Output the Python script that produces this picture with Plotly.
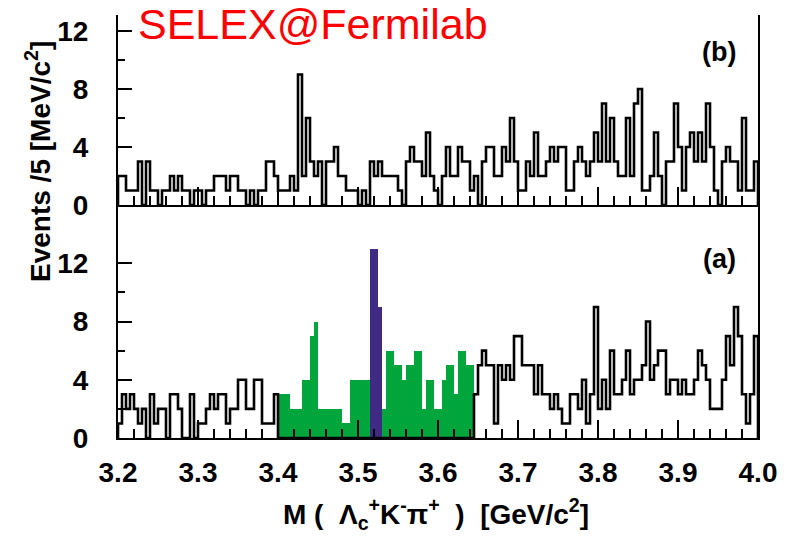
import numpy as np
import plotly.graph_objects as go

# Mass axis: 3.2 - 4.0 GeV/c^2 in 5 MeV/c^2 bins
M_MIN, M_MAX, BIN = 3.2, 4.0, 0.005

# Panel (b): events per 5 MeV/c^2
counts_b = [
    2, 2, 1, 1, 1, 3, 0, 3, 1, 1,
    0, 1, 1, 2, 1, 2, 1, 1, 0, 1,
    1, 0, 1, 1, 2, 2, 2, 1, 2, 2,
    1, 1, 0, 1, 0, 1, 1, 3, 3, 2,
    1, 1, 1, 2, 1, 9, 2, 6, 3, 2,
    3, 0, 3, 3, 4, 2, 2, 1, 1, 1,
    0, 1, 0, 3, 2, 3, 2, 2, 2, 2,
    1, 0, 3, 4, 3, 3, 2, 5, 2, 1,
    0, 2, 4, 2, 2, 4, 3, 3, 1, 2,
    0, 3, 4, 4, 2, 2, 4, 3, 6, 3,
    1, 1, 3, 2, 5, 2, 2, 3, 4, 3,
    4, 4, 1, 1, 3, 4, 3, 2, 3, 5,
    3, 7, 3, 6, 3, 2, 2, 6, 2, 7,
    8, 1, 1, 2, 5, 2, 0, 3, 3, 7,
    4, 1, 4, 5, 3, 5, 3, 7, 4, 1,
    0, 3, 4, 3, 3, 1, 6, 1, 1, 3,
]

# Panel (a): events per 5 MeV/c^2
counts_a = [
    1, 3, 2, 3, 2, 1, 2, 0, 3, 1,
    2, 2, 0, 3, 3, 2, 0, 0, 3, 0,
    1, 1, 2, 3, 2, 3, 3, 1, 2, 2,
    4, 4, 2, 2, 4, 4, 1, 1, 1, 3,
    3, 3, 3, 2, 2, 2, 4, 4, 7, 8,
    2, 2, 2, 2, 2, 2, 1, 1, 4, 4,
    4, 4, 4, 13, 13, 9, 2, 6, 6, 5,
    5, 4, 5, 5, 6, 6, 2, 4, 4, 2,
    2, 4, 5, 5, 3, 6, 6, 5, 5, 3,
    5, 6, 5, 5, 1, 5, 4, 5, 4, 7,
    7, 5, 5, 5, 3, 5, 3, 3, 2, 3,
    2, 1, 1, 3, 3, 2, 4, 1, 3, 9,
    2, 4, 2, 6, 3, 3, 4, 6, 3, 4,
    4, 5, 8, 4, 5, 6, 6, 3, 4, 4,
    3, 4, 3, 3, 4, 6, 5, 4, 2, 2,
    2, 4, 7, 5, 9, 7, 3, 1, 3, 7,
]

# Highlighted mass windows in panel (a)
search_window = (3.400, 3.645)
peak_window = (3.515, 3.530)

y_tick_vals = [0, 4, 8, 12]
y_minor_vals = [2, 6, 10]

GREEN = "#00a53c"
PURPLE = "#3f2a84"
FONT = "Liberation Sans, Arial, sans-serif"

n_bins = len(counts_b)
left = M_MIN + BIN * np.arange(n_bins)
centers = left + BIN / 2
eps = 1e-9
in_search = (left >= search_window[0] - eps) & (left < search_window[1] - eps)
in_peak = (left >= peak_window[0] - eps) & (left < peak_window[1] - eps)
in_green = in_search & ~in_peak

a = np.array(counts_a)
b = np.array(counts_b)


def outline(values, xaxis, yaxis):
    xs = [M_MIN] + list(left) + [M_MAX]
    ys = [0] + list(values) + [0]
    return go.Scatter(
        x=xs, y=ys, mode="lines", xaxis=xaxis, yaxis=yaxis,
        line=dict(shape="hv", color="black", width=2.6),
        hoverinfo="skip", showlegend=False,
    )


fig = go.Figure()

# Panel (a): filled window bins, then the outlined sidebands
fig.add_trace(go.Bar(x=centers[in_green], y=a[in_green], width=BIN,
                     marker=dict(color=GREEN, line=dict(width=0)),
                     xaxis="x", yaxis="y", showlegend=False))
fig.add_trace(go.Bar(x=centers[in_peak], y=a[in_peak], width=BIN,
                     marker=dict(color=PURPLE, line=dict(width=0)),
                     xaxis="x", yaxis="y", showlegend=False))
fig.add_trace(outline(np.where(in_search, 0, a), "x", "y"))

# Panel (b)
fig.add_trace(outline(b, "x2", "y2"))

H, W = 536, 800
mt, mb, ml, mr = 15, 98, 118, 42
plot_h = H - mt - mb
split_px = 205
split = (H - mb - split_px) / plot_h

tick_font = dict(family=FONT, size=28, color="black", weight="bold")

x_common = dict(
    range=[M_MIN, M_MAX], showgrid=False, zeroline=False,
    showline=True, linecolor="black", linewidth=2,
    ticks="inside", ticklen=18, tickwidth=2, tickcolor="black",
    tickmode="linear", tick0=3.2, dtick=0.1, tickformat=".1f",
    minor=dict(ticks="inside", ticklen=9, tickwidth=2, tickcolor="black",
               tickmode="linear", tick0=3.2, dtick=0.02),
)
y_common = dict(
    showgrid=False, zeroline=False,
    showline=True, linecolor="black", linewidth=2, mirror=True,
    ticks="inside", ticklen=14, tickwidth=2, tickcolor="black",
    tickmode="array", tickvals=y_tick_vals,
    minor=dict(ticks="inside", ticklen=7, tickwidth=2, tickcolor="black",
               tickmode="array", tickvals=y_minor_vals),
    tickfont=tick_font, ticklabelstandoff=22,
)

fig.update_layout(
    width=W, height=H,
    margin=dict(l=ml, r=mr, t=mt, b=mb),
    paper_bgcolor="white", plot_bgcolor="white",
    barmode="overlay", bargap=0,
    xaxis=dict(x_common, anchor="y", domain=[0, 1],
               tickfont=tick_font, ticklabelstandoff=8),
    yaxis=dict(y_common, domain=[0, split], range=[0, (H - mb - split_px) / 14.56]),
    xaxis2=dict(x_common, anchor="y2", matches="x", showticklabels=False),
    yaxis2=dict(y_common, domain=[split, 1], range=[0, (split_px - mt) / 14.5]),
)


def px_x(px):
    return (px - ml) / (W - ml - mr)


def px_y(py):
    return (H - mb - py) / plot_h


fig.add_annotation(
    text="SELEX@Fermilab", xref="paper", yref="paper",
    x=px_x(136), y=px_y(24), xanchor="left", yanchor="middle",
    showarrow=False, font=dict(family=FONT, size=43, color="#ff0000"),
)
fig.add_annotation(
    text="(b)", xref="paper", yref="paper",
    x=px_x(719), y=px_y(52), xanchor="center", yanchor="middle",
    showarrow=False, font=dict(family=FONT, size=27, color="black", weight="bold"),
)
fig.add_annotation(
    text="(a)", xref="paper", yref="paper",
    x=px_x(719), y=px_y(259), xanchor="center", yanchor="middle",
    showarrow=False, font=dict(family=FONT, size=27, color="black", weight="bold"),
)
fig.add_annotation(
    text="Events /5 [MeV/c<sup>2</sup>]", xref="paper", yref="paper",
    x=px_x(38), y=px_y(162), xanchor="center", yanchor="middle",
    textangle=-90, showarrow=False,
    font=dict(family=FONT, size=28, color="black", weight="bold"),
)
fig.add_annotation(
    text="M (  Λ<sub>c</sub><sup>+</sup>K<sup>-</sup>π<sup>+</sup>  )  [GeV/c<sup>2</sup>]",
    xref="paper", yref="paper",
    x=px_x(436), y=px_y(514), xanchor="center", yanchor="middle",
    showarrow=False, font=dict(family=FONT, size=28, color="black", weight="bold"),
)

fig.write_html("out.html")
